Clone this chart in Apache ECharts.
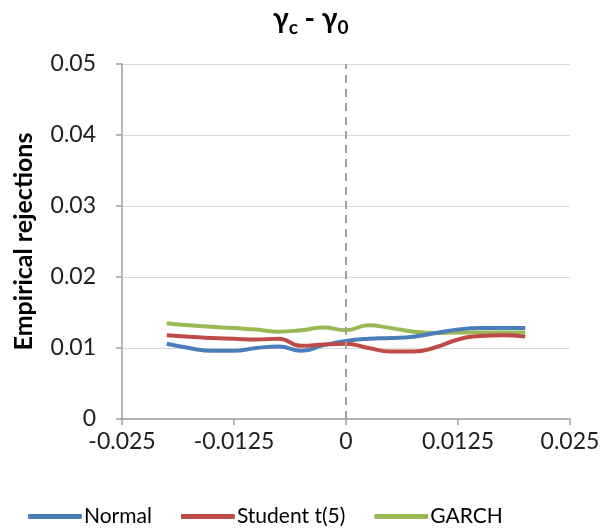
<!DOCTYPE html>
<html><head><meta charset="utf-8">
<script src="https://cdn.jsdelivr.net/npm/echarts@6/dist/echarts.min.js"></script>
<style>html,body{margin:0;padding:0;background:#fff}#c{width:604px;height:531px}</style>
</head><body><div id="c"></div>
<script>
const xValues = [-0.02,-0.0175,-0.015,-0.0125,-0.01,-0.0075,-0.005,-0.0025,0,0.0025,0.005,0.0075,0.01,0.0125,0.015,0.0175,0.02];
const normal  = [0.0106,0.0100,0.0096,0.0096,0.0100,0.0102,0.0096,0.0104,0.0110,0.0113,0.0114,0.0116,0.0121,0.0126,0.0128,0.0128,0.0128];
const student = [0.0118,0.0116,0.0114,0.0113,0.0112,0.0113,0.0103,0.0105,0.0106,0.0100,0.0095,0.0095,0.0101,0.0112,0.0117,0.0118,0.0116];
const garch   = [0.0135,0.0132,0.0130,0.0128,0.0126,0.0123,0.0125,0.0129,0.0125,0.0132,0.0128,0.0123,0.0121,0.0122,0.0122,0.0122,0.0122];
const yTicks = {min:0, max:0.05, interval:0.01};
const xTicks = {min:-0.025, max:0.025, interval:0.0125};
const seriesNames = ['Normal','Student t(5)','GARCH'];
const colors = ['#4A7EBB','#BE4B48','#98B954'];

const pair = arr => xValues.map((x,i)=>[x,arr[i]]);
const font = 'Lato, "Open Sans", sans-serif';
const chart = echarts.init(document.getElementById('c'));
chart.setOption({
  animation:false,
  title:{
    text:'{a|γ}{s|c}{a| - γ}{s|0}',
    left:268, top:0,
    textStyle:{fontSize:28,rich:{
      a:{fontFamily:font,fontWeight:'bold',fontSize:28,color:'#000',verticalAlign:'bottom'},
      s:{fontFamily:font,fontWeight:'bold',fontSize:19,color:'#000',verticalAlign:'bottom',padding:[0,0,-4,0]}
    }}
  },
  grid:{left:122,right:34,top:64,bottom:112},
  legend:{
    left:23, top:501, itemWidth:54, itemHeight:5, itemGap:29, icon:'roundRect',
    textStyle:{fontFamily:font,fontSize:21,color:'#000',padding:[0,0,0,-3]},
    data:seriesNames
  },
  xAxis:{
    type:'value', min:xTicks.min, max:xTicks.max, interval:xTicks.interval,
    axisLine:{show:true,onZero:false,lineStyle:{color:'#A0A0A0',width:1.5}},
    axisTick:{show:true,length:6,lineStyle:{color:'#A0A0A0',width:1.5}},
    splitLine:{show:false},
    axisLabel:{fontFamily:font,fontSize:23,color:'#202020',margin:11,
      formatter:v=>v===0?'0':String(+v.toFixed(4))}
  },
  yAxis:{
    type:'value', min:yTicks.min, max:yTicks.max, interval:yTicks.interval,
    name:'Empirical rejections', nameLocation:'middle', nameGap:86,
    nameTextStyle:{fontFamily:font,fontWeight:'bold',fontSize:25,color:'#000'},
    axisLine:{show:true,onZero:false,lineStyle:{color:'#A0A0A0',width:1.5}},
    axisTick:{show:true,length:6,lineStyle:{color:'#A0A0A0',width:1.5}},
    splitLine:{show:true,lineStyle:{color:'#D9D9D9',width:1.2}},
    axisLabel:{fontFamily:font,fontSize:23,color:'#202020',margin:26,
      formatter:v=>v===0?'0':v.toFixed(2)}
  },
  series:[
    {name:seriesNames[0],type:'line',data:pair(normal),smooth:0.5,showSymbol:false,
      lineStyle:{color:colors[0],width:4},itemStyle:{color:colors[0]},z:3,
      markLine:{silent:true,symbol:'none',label:{show:false},
        lineStyle:{color:'#A0A0A0',type:[8,6],width:2},data:[{xAxis:0}]}},
    {name:seriesNames[1],type:'line',data:pair(student),smooth:0.5,showSymbol:false,
      lineStyle:{color:colors[1],width:4},itemStyle:{color:colors[1]},z:4},
    {name:seriesNames[2],type:'line',data:pair(garch),smooth:0.5,showSymbol:false,
      lineStyle:{color:colors[2],width:4},itemStyle:{color:colors[2]},z:2}
  ]
});
</script></body></html>
